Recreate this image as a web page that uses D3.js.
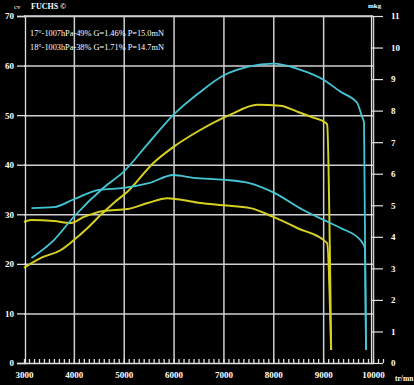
<!DOCTYPE html>
<html>
<head>
<meta charset="utf-8">
<script src="https://cdn.jsdelivr.net/npm/d3@7"></script>
<style>
  body { margin: 0; background: #000; }
  svg { display: block; }
  text { font-family: "Liberation Serif", serif; fill: #fff; }
</style>
</head>
<body>
<script>
// cyan run - puissance (cv) and couple (mkg)
var rpmP1 = [3150, 3600, 4000, 4600, 5000, 5500, 6000, 6500, 7000, 7500, 8000, 8500, 9000, 9350, 9680, 9780, 9820, 9860];
var powP1 = [21.2, 24.8, 29.5, 35.4, 38.6, 44.4, 50.1, 54.4, 58.0, 59.8, 60.4, 59.3, 57.2, 54.7, 52.5, 49.7, 48.5, 2.6];
var rpmT1 = [3150, 3600, 4000, 4500, 5000, 5500, 6000, 6400, 7000, 7500, 8000, 8600, 9100, 9350, 9750, 9840, 9860];
var torT1 = [4.91, 4.94, 5.19, 5.49, 5.55, 5.70, 5.96, 5.87, 5.81, 5.71, 5.41, 4.85, 4.47, 4.28, 3.89, 3.64, 0.41];

// yellow run
var rpmP2 = [3000, 3340, 3740, 4000, 4280, 4540, 4800, 5080, 5600, 6000, 6500, 7140, 7680, 8140, 8480, 8800, 9040, 9080, 9160];
var powP2 = [19.2, 21.2, 22.8, 24.8, 27.3, 29.9, 32.3, 34.6, 40.4, 43.6, 46.8, 50.1, 52.1, 51.9, 50.7, 49.5, 48.5, 48.1, 2.6];
var rpmT2 = [3000, 3140, 3600, 3940, 4200, 4600, 5080, 5480, 5880, 6080, 6540, 7000, 7540, 8000, 8480, 9080, 9160];
var torT2 = [4.47, 4.53, 4.50, 4.44, 4.63, 4.82, 4.88, 5.07, 5.22, 5.19, 5.07, 5.00, 4.91, 4.63, 4.28, 3.80, 0.41];

var rpmTicks = [3000, 4000, 5000, 6000, 7000, 8000, 9000, 10000];
var cvTicks = [0, 10, 20, 30, 40, 50, 60, 70];
var mkgTicks = [0, 1, 2, 3, 4, 5, 6, 7, 8, 9, 10, 11];

var legend1 = "17°-1007hPa-49% G=1.46% P=15.0mN";
var legend2 = "18°-1003hPa-38% G=1.71% P=14.7mN";

var width = 414, height = 385;
var cyan = "#45c6d6", yellow = "#d6d020";

var svg = d3.select("body").append("svg")
    .attr("width", width)
    .attr("height", height);

svg.append("rect").attr("width", width).attr("height", height).attr("fill", "#000");

var x = d3.scaleLinear().domain([3000, 10000]).range([24, 373]);
var yL = d3.scaleLinear().domain([0, 70]).range([363, 16]);
var yR = d3.scaleLinear().domain([0, 11]).range([363, 16]);

// grid
svg.append("g").attr("transform", "translate(0,363)")
    .call(d3.axisBottom(x).tickValues(rpmTicks.slice(1)).tickSize(-347).tickFormat(""))
    .call(g => g.select(".domain").remove())
    .selectAll("line").attr("stroke", "#d0d0d0").attr("stroke-width", 1.5);

svg.append("g").attr("transform", "translate(24,0)")
    .call(d3.axisLeft(yL).tickValues(cvTicks.slice(1)).tickSize(-349).tickFormat(""))
    .call(g => g.select(".domain").remove())
    .selectAll("line").attr("stroke", "#d0d0d0").attr("stroke-width", 1.5);

// left axis (cv)
var gl = svg.append("g").attr("transform", "translate(25,0)");
gl.call(d3.axisLeft(yL).tickValues(d3.range(0, 71, 1)).tickSize(3).tickSizeOuter(0).tickFormat(""));
gl.call(d3.axisLeft(yL).tickValues(cvTicks).tickSize(8).tickPadding(3).tickFormat(d3.format("d")));
gl.selectAll("path,line").attr("stroke", "#e0e0e0").attr("stroke-width", 1.3);
gl.selectAll("text").attr("font-size", 9).attr("font-weight", "bold").attr("fill", "#fff");

// right axis (mkg)
var gr = svg.append("g").attr("transform", "translate(371,0)");
gr.call(d3.axisRight(yR).tickValues(d3.range(0, 11.01, 0.1)).tickSize(6).tickSizeOuter(0).tickFormat(""));
gr.call(d3.axisRight(yR).tickValues(mkgTicks).tickSize(12).tickPadding(8).tickFormat(d3.format("d")));
gr.selectAll("path,line").attr("stroke", "#e0e0e0").attr("stroke-width", 1.2);
gr.selectAll("text").attr("font-size", 9).attr("font-weight", "bold").attr("fill", "#fff");

// bottom axis (rpm)
var gb = svg.append("g").attr("transform", "translate(0,363)");
gb.call(d3.axisTop(x).tickValues(d3.range(3000, 10201, 100)).tickSize(4).tickSizeOuter(0).tickFormat(""));
gb.selectAll("path,line").attr("stroke", "#e0e0e0").attr("stroke-width", 1.3);
var gb2 = svg.append("g").attr("transform", "translate(0,363)");
gb2.call(d3.axisBottom(x).tickValues(rpmTicks).tickSize(0).tickPadding(9).tickFormat(d3.format("d")));
gb2.select(".domain").remove();
gb2.selectAll("text").attr("font-size", 9).attr("font-weight", "bold").attr("fill", "#fff");

// top border
svg.append("line").attr("x1", 24).attr("x2", 373).attr("y1", yL(70)).attr("y2", yL(70))
    .attr("stroke", "#d0d0d0").attr("stroke-width", 1.5);

// curves
var lineP = d3.line().x(d => x(d[0])).y(d => yL(d[1])).curve(d3.curveMonotoneX);
var lineT = d3.line().x(d => x(d[0])).y(d => yR(d[1])).curve(d3.curveMonotoneX);

function draw(line, xs, ys, color, w) {
  svg.append("path")
      .datum(d3.zip(xs, ys))
      .attr("d", line)
      .attr("fill", "none")
      .attr("stroke", color)
      .attr("stroke-width", w);
}
draw(lineT, rpmT2, torT2, yellow, 2);
draw(lineP, rpmP2, powP2, yellow, 2);
draw(lineT, rpmT1, torT1, cyan, 1.8);
draw(lineP, rpmP1, powP1, cyan, 1.8);

// titles
svg.append("text").attr("x", 14).attr("y", 9).attr("font-size", 7).text("cv");
svg.append("text").attr("x", 31).attr("y", 9).attr("font-size", 8).attr("font-weight", "bold").text("FUCHS ©");
svg.append("text").attr("x", 368).attr("y", 8).attr("font-size", 7).attr("font-weight", "bold").text("mkg");
svg.append("text").attr("x", 395).attr("y", 381).attr("font-size", 7.5).attr("font-weight", "bold").text("tr/mn");

svg.append("text").attr("x", 30).attr("y", 36).attr("font-size", 8.3).attr("fill", "#5fd6e6").text(legend1);
svg.append("text").attr("x", 30).attr("y", 50).attr("font-size", 8.3).attr("fill", "#e8e4b0").text(legend2);
</script>
</body>
</html>
